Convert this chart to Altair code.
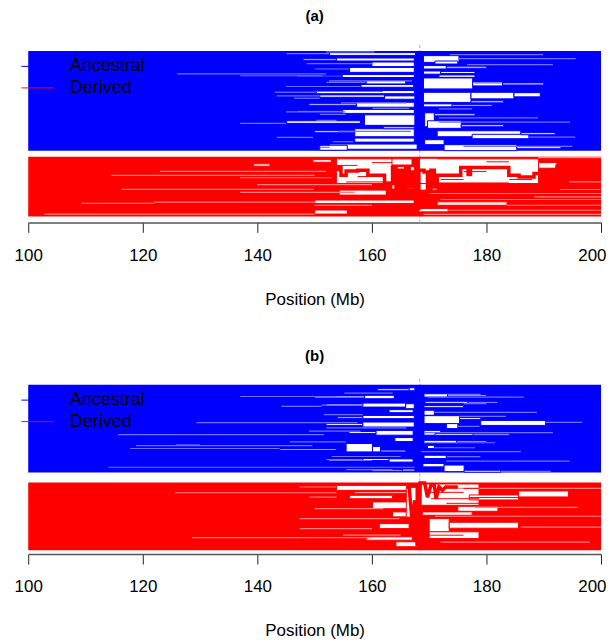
import altair as alt
import pandas as pd

GROUPS = ["Ancestral", "Derived"]
COLORS = ["#0000ff", "#ff0000"]
LIGHTS = ["#7070ff", "#ff8080"]
CORE_MB = 168.35
X_TICKS = [100, 120, 140, 160, 180, 200]
X_RANGE = [100, 200]

# ---------------- panel (a) ----------------
a_n_anc, a_n_der = 50, 30
# white gaps: (start Mb, end Mb, first row, last row)
a_anc_gaps = [
    (152.6, 167.6, 0.8, 2.2), (153.8, 167.4, 3.5, 5.0), (156.1, 167.4, 8.2, 10.7),
    (154.8, 167.4, 11.8, 13.3), (159.0, 165.9, 14.8, 16.5), (158.1, 167.3, 16.8, 18.2),
    (150.3, 167.4, 19.8, 21.4), (150.9, 162.2, 22.0, 23.2), (162.2, 167.5, 22.5, 24.2),
    (157.3, 167.4, 25.7, 28.2), (154.9, 167.4, 29.3, 31.3), (158.7, 167.5, 32.0, 37.3),
    (145.1, 158.0, 35.0, 36.3), (157.0, 167.4, 39.0, 43.0), (157.0, 167.4, 43.7, 45.7),
    (152.6, 167.9, 46.7, 49.3), (150.9, 155.7, 47.3, 49.8), (160.0, 167.4, 5.5, 7.8),
    (162.0, 167.4, 38.0, 39.0),
    (145.0, 152.6, 1.0, 1.8), (148.0, 153.8, 3.8, 4.6), (150.0, 156.1, 8.6, 9.4),
    (147.0, 154.8, 12.2, 12.9), (152.0, 159.0, 15.2, 16.0), (143.0, 150.3, 20.2, 21.0),
    (149.0, 157.3, 26.5, 27.4), (147.0, 154.9, 29.8, 30.6), (150.0, 157.0, 40.0, 41.0),
    (169.0, 175.2, 2.3, 5.7), (171.0, 175.0, 5.0, 6.5), (169.0, 173.0, 7.3, 9.0),
    (169.0, 172.0, 10.0, 11.6),
    (171.7, 178.0, 12.0, 13.2), (169.0, 177.6, 13.5, 19.0), (177.6, 182.8, 15.5, 17.5),
    (169.0, 177.3, 20.7, 25.8), (177.3, 184.8, 20.7, 24.0), (184.8, 189.4, 20.9, 23.0),
    (169.0, 174.0, 26.5, 28.0), (169.2, 170.9, 31.0, 38.0), (169.7, 175.6, 35.0, 38.8),
    (171.4, 186.0, 40.0, 43.0),
    (177.5, 187.4, 41.8, 44.0), (169.2, 172.6, 44.5, 47.0), (172.6, 185.3, 47.0, 50.0),
    (173.0, 180.0, 7.6, 8.6), (172.0, 178.0, 10.3, 11.3), (182.8, 190.0, 16.0, 17.0),
    (177.3, 183.0, 25.0, 26.0), (174.0, 181.0, 27.0, 27.8), (170.9, 178.0, 31.5, 32.5),
    (175.6, 183.0, 37.0, 38.0), (186.0, 192.0, 41.0, 42.0), (185.3, 193.0, 48.0, 49.0),
]
# lighter haplotype lines: (start Mb, end Mb, row)
a_anc_light = [
    (152.0, 160.5, 0.4), (173.6, 189.9, 1.8), (175.2, 195.6, 3.8), (148.6, 160.1, 6.3),
    (176.6, 191.6, 6.8), (126.0, 152.0, 11.5), (137.0, 151.4, 12.4), (152.5, 167.0, 15.0),
    (178.0, 182.6, 16.0), (145.0, 158.0, 17.8), (150.3, 161.9, 20.3), (143.4, 150.9, 22.5),
    (146.4, 150.9, 23.7), (154.6, 166.0, 26.0), (160.1, 166.5, 28.8), (171.7, 177.5, 29.0),
    (145.0, 155.4, 30.5), (150.9, 155.4, 31.8), (171.7, 189.0, 33.5), (150.3, 153.8, 34.8),
    (137.0, 145.0, 36.3), (171.7, 194.6, 35.7), (154.1, 166.8, 40.3), (143.4, 149.7, 43.3),
    (187.4, 195.5, 43.2), (153.2, 156.7, 45.5), (176.0, 195.0, 47.8), (150.9, 152.6, 48.3),
]
a_der_gaps = [
    (139.3, 142.2, 3.6, 4.8), (149.7, 152.9, 1.5, 2.8),
    (153.8, 163.6, 0.8, 13.5), (163.5, 167.0, 0.8, 4.2), (163.5, 167.4, 5.0, 16.5),
    (154.3, 162.5, 16.8, 19.3), (150.0, 167.7, 21.8, 23.5), (150.0, 155.7, 26.8, 28.8),
    (168.3, 189.1, 0.8, 13.5), (168.3, 171.4, 13.5, 16.8), (189.1, 192.3, 3.0, 5.8),
    (171.4, 183.6, 22.7, 24.4), (168.2, 173.3, 26.0, 27.7),
]
a_der_light = [
    (123.0, 152.0, 7.4), (114.5, 150.0, 9.4), (137.0, 153.0, 10.6), (140.0, 160.0, 14.0),
    (116.3, 149.8, 16.4), (137.0, 157.0, 17.9), (122.0, 150.0, 22.8), (109.3, 122.0, 23.4),
    (150.0, 160.0, 24.5), (102.8, 150.0, 28.9), (189.0, 200.0, 0.5), (194.4, 200.0, 12.7),
    (192.9, 199.9, 16.5), (170.0, 200.0, 18.5), (188.3, 200.0, 20.2), (172.0, 200.0, 21.5),
    (183.6, 200.0, 24.4), (173.3, 200.0, 26.9), (169.0, 200.0, 29.0),
]
# thin full-colour branch outlines inside the white areas: (start Mb, end Mb, row)
a_der_branch = [
    (153.8, 167.0, 1.1), (153.8, 157.5, 4.4), (155.5, 163.5, 12.7), (157.5, 159.3, 10.0),
    (160.0, 163.5, 3.0), (171.4, 189.1, 1.1), (171.4, 183.9, 13.2), (180.0, 183.9, 2.6),
    (184.0, 188.0, 11.5), (172.0, 176.0, 11.5), (163.5, 167.4, 16.3), (176.0, 180.0, 7.5),
]
# main derived branch (thick line): Mb and row
a_path_mb = [
    153.8, 154.2, 154.2, 154.6, 154.6, 155.5, 155.5, 157.5, 157.5, 159.3, 159.3, 162.2,
    162.2, 163.6, 163.6, 164.2, 164.2, 164.8, 164.8, 165.4, 165.4, 165.9, 165.9, 166.5,
    166.5, 167.1, 167.1, 167.6, 167.6, 168.2, 168.2, 169.1, 169.1, 169.7, 169.7, 170.3,
    170.3, 170.9, 170.9, 171.4, 171.4, 175.5, 175.5, 176.8, 176.8, 177.2, 177.2, 183.9,
    183.9, 185.7, 185.7, 188.3, 188.3, 190.9, 190.9, 192.3, 192.3, 194.9, 194.9, 200.0,
]
a_path_row = [
    6.5, 6.5, 5.2, 5.2, 9.3, 9.3, 7.2, 7.2, 6.8, 6.8, 9.3, 9.3,
    13.5, 13.5, 5.2, 5.2, 16.8, 16.8, 6.8, 6.8, 16.0, 16.0, 6.0, 6.0,
    15.2, 15.2, 7.7, 7.7, 26.0, 26.0, 6.8, 6.8, 7.7, 7.7, 16.8, 16.8,
    6.8, 6.8, 15.2, 15.2, 9.35, 9.35, 5.5, 5.5, 9.0, 9.0, 5.5, 5.5,
    9.35, 9.35, 10.2, 10.2, 8.5, 8.5, 6.85, 6.85, 4.85, 4.85, 4.35, 4.35,
]

# ---------------- panel (b) ----------------
b_n_anc, b_n_der = 44, 34
b_anc_gaps = [
    (166.5, 167.5, 1.5, 3.0), (158.7, 163.9, 5.3, 7.0), (158.4, 165.9, 9.2, 11.2),
    (165.9, 167.4, 9.5, 12.0), (158.4, 167.4, 15.4, 17.0), (158.4, 167.4, 18.7, 21.2),
    (160.7, 167.2, 22.9, 25.3), (155.5, 160.1, 29.5, 33.7), (160.1, 161.5, 31.0, 33.7),
    (161.5, 165.9, 32.8, 33.7), (143.9, 153.8, 32.0, 32.8), (158.4, 163.0, 37.0, 38.0),
    (163.0, 167.2, 37.2, 38.8), (165.3, 167.5, 42.3, 43.3), (163.0, 167.2, 12.5, 14.0),
    (164.0, 167.2, 26.5, 28.5),
    (150.0, 158.7, 5.6, 6.6), (152.0, 158.4, 9.6, 10.6), (154.0, 158.4, 16.0, 16.8),
    (152.0, 158.4, 19.5, 20.5), (156.0, 160.7, 23.5, 24.5), (152.0, 158.4, 37.2, 37.9),
    (160.0, 165.3, 42.5, 43.3), (161.0, 166.5, 2.0, 3.0),
    (169.1, 173.2, 4.5, 6.2), (169.3, 176.8, 8.3, 9.3), (169.1, 176.0, 10.5, 11.5),
    (169.1, 170.9, 12.8, 15.3), (169.1, 175.3, 15.5, 19.5), (173.0, 175.0, 19.5, 22.0),
    (179.0, 190.3, 17.9, 20.4), (169.1, 172.0, 22.9, 25.3), (171.0, 177.7, 24.5, 25.4),
    (169.1, 174.8, 27.9, 29.5), (169.7, 170.9, 30.4, 32.0), (169.1, 173.0, 35.4, 37.0),
    (168.9, 172.6, 39.5, 41.2), (172.6, 176.1, 40.3, 43.6), (176.1, 182.5, 42.9, 43.9),
    (173.2, 180.0, 4.9, 5.7), (176.8, 182.0, 8.5, 9.2), (175.3, 179.0, 16.5, 17.5),
    (177.7, 184.0, 24.6, 25.3), (174.8, 180.0, 28.2, 29.0), (173.0, 179.0, 35.8, 36.6),
]
b_anc_light = [
    (129.4, 157.5, 19.0), (115.7, 151.6, 25.0), (118.8, 149.6, 30.5), (117.8, 143.9, 32.0),
    (125.8, 130.0, 30.2), (114.0, 167.5, 41.4), (155.2, 163.6, 4.2), (137.0, 153.8, 5.9),
    (144.2, 151.2, 10.8), (151.2, 158.4, 10.2), (151.6, 158.4, 15.0), (152.0, 166.0, 21.6),
    (145.7, 155.5, 28.7), (149.0, 158.0, 23.3), (153.0, 165.0, 36.0), (152.5, 160.0, 38.0),
    (155.5, 163.6, 42.6),
    (173.2, 179.0, 4.85), (169.7, 186.5, 6.2), (176.0, 180.0, 9.5), (170.9, 188.8, 13.9),
    (175.3, 183.4, 15.9), (175.0, 178.8, 20.9), (190.3, 196.7, 18.9), (169.1, 191.6, 24.0),
    (169.1, 181.5, 29.1), (170.9, 178.0, 31.6), (168.6, 186.0, 33.6), (173.0, 194.5, 38.3),
    (182.5, 191.2, 43.5),
]
b_der_gaps = [
    (153.8, 166.5, 1.5, 4.0), (156.1, 163.6, 6.5, 8.2), (160.1, 166.5, 9.8, 13.2),
    (163.6, 166.5, 14.8, 17.3), (161.3, 166.5, 20.7, 23.2), (159.0, 167.1, 27.3, 29.0),
    (164.2, 168.0, 29.8, 32.3), (166.0, 167.7, 2.5, 17.5), (157.0, 166.0, 4.6, 5.4),
    (168.6, 178.7, 0.8, 11.5), (168.8, 177.5, 14.8, 16.5), (170.0, 173.5, 18.2, 24.8),
    (170.0, 178.7, 24.8, 28.2), (177.0, 185.6, 6.3, 8.8), (185.6, 194.3, 4.3, 7.3),
    (173.5, 185.6, 20.0, 23.0), (175.0, 182.0, 12.0, 14.5),
]
b_der_light = [
    (125.6, 153.8, 5.2), (128.6, 160.0, 27.7), (147.4, 153.8, 2.3), (149.1, 153.8, 7.4),
    (147.4, 164.8, 18.2), (150.0, 162.0, 13.2), (147.4, 160.0, 23.2), (155.0, 165.0, 26.5),
    (172.0, 200.0, 3.0), (178.0, 196.0, 12.5), (171.0, 200.0, 17.0), (186.0, 200.0, 22.5),
    (172.0, 198.0, 30.0),
]
b_der_branch = [
    (170.3, 178.7, 8.2), (170.0, 176.0, 5.0), (176.0, 178.7, 3.0), (173.0, 178.7, 10.5),
    (177.0, 185.6, 7.6), (170.0, 176.0, 26.5),
]
b_path_mb = [166.0, 166.5, 167.0, 167.5, 167.9, 168.4, 169.2, 169.7, 170.3, 170.9,
             171.2, 171.7, 172.3, 172.9, 175.0]
b_path_row = [2.3, 2.3, 19.0, 9.0, 32.0, 0.3, 0.3, 7.4, 1.5, 1.5,
              8.2, 2.3, 4.0, 2.3, 2.3]

FONT = "Liberation Sans"
PLOT_W = 575
# legend placement (in axis units, layout only)
LEG_LINE = (98.82, 104.49)
LEG_TEXT_X = 107.27
LEG_ROWS = [7.7, 18.5]


def panel(tag, title_offset, n_anc, n_der, der_off, ydom, height, anc_gaps, der_gaps,
          anc_light, der_light, der_branch, path_mb, path_row):
    offs = {"Ancestral": 0, "Derived": der_off}
    nrow = {"Ancestral": n_anc, "Derived": n_der}
    blocks = pd.DataFrame([
        {"group": g, "x": X_RANGE[0], "x2": X_RANGE[1], "y": offs[g], "y2": offs[g] + nrow[g]}
        for g in GROUPS
    ])
    gaps = pd.DataFrame(
        [{"group": "Ancestral", "x": a, "x2": b, "y": r1, "y2": r2} for a, b, r1, r2 in anc_gaps]
        + [{"group": "Derived", "x": a, "x2": b, "y": der_off + r1, "y2": der_off + r2}
           for a, b, r1, r2 in der_gaps]
    )
    light = pd.DataFrame(
        [{"group": "Ancestral", "x": a, "x2": b, "y": r} for a, b, r in anc_light]
        + [{"group": "Derived", "x": a, "x2": b, "y": der_off + r} for a, b, r in der_light]
    )
    branch = pd.DataFrame(
        [{"group": "Derived", "x": a, "x2": b, "y": der_off + r} for a, b, r in der_branch])
    path = pd.DataFrame({"i": range(len(path_mb)), "x": path_mb,
                         "y": [der_off + r for r in path_row]})
    core = pd.DataFrame({"x": [CORE_MB]})
    legend_df = pd.DataFrame({"group": GROUPS, "x": [LEG_LINE[0]] * 2, "x2": [LEG_LINE[1]] * 2,
                              "tx": [LEG_TEXT_X] * 2, "y": LEG_ROWS})

    xs = alt.Scale(domain=X_RANGE, nice=False, zero=False)
    xax = alt.Axis(values=X_TICKS, title="Position (Mb)", grid=False, format="d",
                   labelFontSize=17, titleFontSize=17, labelFont=FONT, titleFont=FONT,
                   labelColor="black", titleColor="black", titleFontWeight="normal",
                   domainColor="#555555", domainWidth=1.5, tickColor="#222222",
                   tickSize=10, labelPadding=15, titlePadding=28, labelFlush=False,
                   labelAlign={"condition": {"test": "datum.value == 200", "value": "right"},
                               "value": "center"},
                   labelOffset={"condition": {"test": "datum.value == 200", "value": 5},
                                "value": 0})
    ys = alt.Scale(domain=ydom, reverse=True, nice=False, zero=False)
    gscale = alt.Scale(domain=GROUPS, range=COLORS)

    def X(f="x"):
        return alt.X(f + ":Q", scale=xs, axis=xax)

    def Y(f="y"):
        return alt.Y(f + ":Q", scale=ys, axis=None)

    core_l = alt.Chart(core).mark_rule(color="#c8c8c8", strokeWidth=1.5, strokeDash=[3, 2]).encode(
        x=X(), y=alt.value(-4), y2=alt.value(height))
    block_l = alt.Chart(blocks).mark_rect().encode(
        x=X(), x2="x2:Q", y=Y(), y2="y2:Q",
        fill=alt.Fill("group:N", scale=gscale, legend=None))
    gap_l = alt.Chart(gaps).mark_rect(fill="white", strokeWidth=1).encode(
        x=X(), x2="x2:Q", y=Y(), y2="y2:Q",
        stroke=alt.Stroke("group:N", scale=gscale, legend=None))
    light_l = alt.Chart(light).mark_rule(strokeWidth=1.2).encode(
        x=X(), x2="x2:Q", y=Y(),
        color=alt.Color("group:N", scale=alt.Scale(domain=GROUPS, range=LIGHTS), legend=None))
    branch_l = alt.Chart(branch).mark_rule(strokeWidth=1).encode(
        x=X(), x2="x2:Q", y=Y(),
        stroke=alt.Stroke("group:N", scale=gscale, legend=None))
    path_l = alt.Chart(path).mark_line(color=COLORS[1], strokeWidth=3.5).encode(
        x=X(), y=Y(), order="i:Q")
    leg_line = alt.Chart(legend_df).mark_rule(strokeWidth=1).encode(
        x=X(), x2="x2:Q", y=Y(),
        stroke=alt.Stroke("group:N", scale=gscale, legend=None))
    leg_text = alt.Chart(legend_df).mark_text(
        align="left", baseline="middle", font=FONT, fontSize=18, color="black").encode(
        x=X("tx"), y=Y(), text="group:N")

    return alt.layer(core_l, block_l, gap_l, light_l, branch_l, path_l, leg_line,
                     leg_text).properties(
        width=PLOT_W, height=height,
        title=alt.TitleParams(tag, font=FONT, fontSize=15, fontWeight="bold",
                              offset=title_offset, anchor="middle", color="black"))


pa = panel("(a)", 20, a_n_anc, a_n_der, 53, [-1, 86], 174, a_anc_gaps, a_der_gaps,
           a_anc_light, a_der_light, a_der_branch, a_path_mb, a_path_row)
pb = panel("(b)", 14, b_n_anc, b_n_der, 49, [-1, 85], 172, b_anc_gaps, b_der_gaps,
           b_anc_light, b_der_light, b_der_branch, b_path_mb, b_path_row)

chart = alt.vconcat(pa, pb, spacing=42).resolve_scale(
    stroke="independent", fill="independent", color="independent", y="independent"
).properties(
    padding={"left": 5.3, "top": 0, "right": 0, "bottom": 0}
).configure_view(stroke=None)

chart.save("out.html", embed_options={"renderer": "svg", "actions": False})
